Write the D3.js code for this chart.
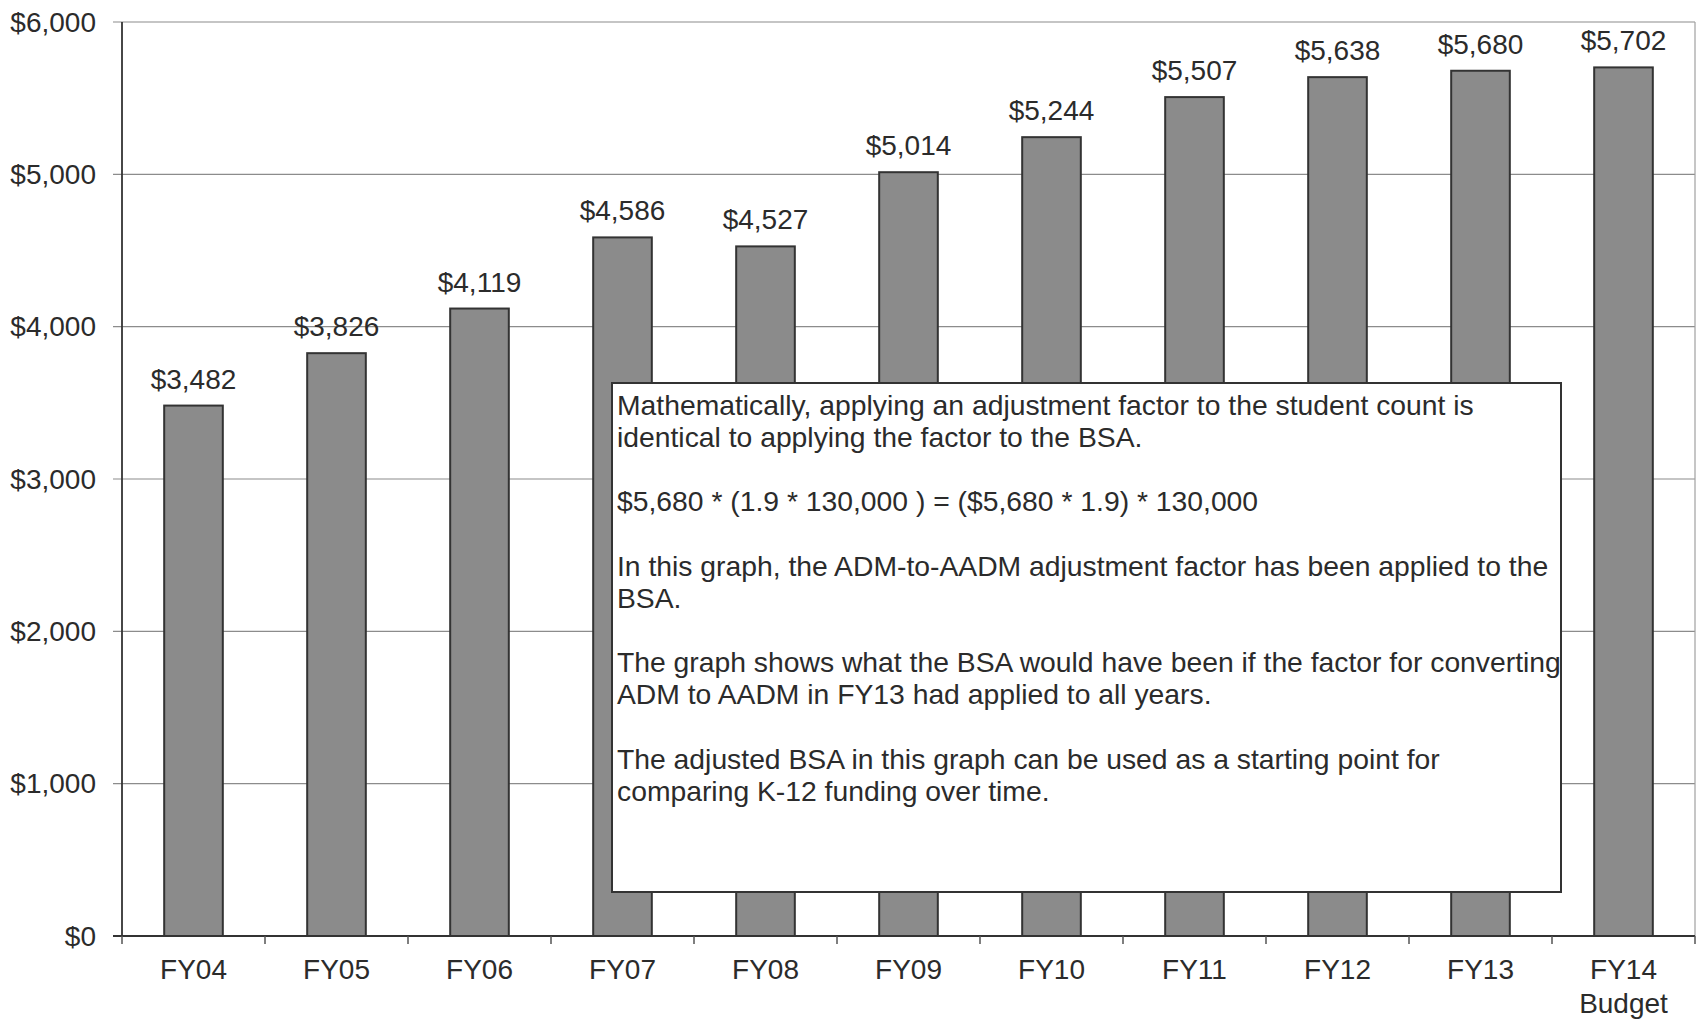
<!DOCTYPE html>
<html><head><meta charset="utf-8">
<script src="https://cdn.jsdelivr.net/npm/d3@7"></script>
<style>
body{margin:0;background:#fff;}
svg{display:block;font-family:"Liberation Sans",Arial,sans-serif;}
</style></head>
<body>
<svg id="c" width="1701" height="1025"></svg>
<script>
const categories = ["FY04","FY05","FY06","FY07","FY08","FY09","FY10","FY11","FY12","FY13","FY14\nBudget"];
const values = [3482,3826,4119,4586,4527,5014,5244,5507,5638,5680,5702];
const yTicks = [0,1000,2000,3000,4000,5000,6000];
const noteParagraphs = [
  ["Mathematically, applying an adjustment factor to the student count is","identical to applying the factor to the BSA."],
  ["$5,680 * (1.9 * 130,000 ) = ($5,680 * 1.9) * 130,000"],
  ["In this graph, the ADM-to-AADM adjustment factor has been applied to the","BSA."],
  ["The graph shows what the BSA would have been if the factor for converting","ADM to AADM in FY13 had applied to all years."],
  ["The adjusted BSA in this graph can be used as a starting point for","comparing K-12 funding over time."]
];

const svg = d3.select("#c");
const m = {left:122, right:1695, top:22, bottom:936};
const x = d3.scaleBand().domain(categories).range([m.left, m.right]).padding(0);
const y = d3.scaleLinear().domain([0,6000]).range([m.bottom, m.top]);
const fmt = d3.format("$,");
const textCol = "#2b2b2b";
const fs = 28;

// gridlines
svg.append("g").selectAll("line").data(yTicks.filter(d=>d>0)).join("line")
  .attr("x1", m.left-9).attr("x2", m.right)
  .attr("y1", d=>y(d)).attr("y2", d=>y(d))
  .attr("stroke", "#8c8c8c").attr("stroke-width", 1.2);
// right border
svg.append("line").attr("x1", m.right).attr("x2", m.right).attr("y1", m.top).attr("y2", m.bottom)
  .attr("stroke","#a0a0a0").attr("stroke-width",1.2);

// y axis labels
svg.append("g").selectAll("text").data(yTicks).join("text")
  .attr("x", 96).attr("y", d=>y(d)).attr("dy","0.35em")
  .attr("text-anchor","end").attr("font-size",fs).attr("fill",textCol)
  .text(d=>fmt(d));

// bars
const bw = x.bandwidth()*0.41;
svg.append("g").selectAll("rect").data(values).join("rect")
  .attr("x",(d,i)=>x(categories[i]) + (x.bandwidth()-bw)/2)
  .attr("y", d=>y(d)).attr("width", bw).attr("height", d=>m.bottom - y(d))
  .attr("fill","#8b8b8b").attr("stroke","#333").attr("stroke-width",2);

// value labels
svg.append("g").selectAll("text").data(values).join("text")
  .attr("x",(d,i)=>x(categories[i]) + x.bandwidth()/2)
  .attr("y", d=>y(d)-17)
  .attr("text-anchor","middle").attr("font-size",fs).attr("fill",textCol)
  .text(d=>fmt(d));

// axes lines
svg.append("line").attr("x1", m.left).attr("x2", m.left).attr("y1", m.top).attr("y2", m.bottom)
  .attr("stroke","#333").attr("stroke-width",1.8);
svg.append("line").attr("x1", m.left-9).attr("x2", m.right).attr("y1", m.bottom).attr("y2", m.bottom)
  .attr("stroke","#333").attr("stroke-width",1.8);
// x ticks at band boundaries
const bounds = categories.map(c=>x(c)).concat([m.right]);
svg.append("g").selectAll("line").data(bounds).join("line")
  .attr("x1",d=>d).attr("x2",d=>d).attr("y1",m.bottom).attr("y2",m.bottom+8)
  .attr("stroke","#555").attr("stroke-width",1.5);

// category labels
const cl = svg.append("g").selectAll("text").data(categories).join("text")
  .attr("x", d=>x(d)+x.bandwidth()/2).attr("y", 979)
  .attr("text-anchor","middle").attr("font-size",fs).attr("fill",textCol);
cl.each(function(d){
  const parts = d.split("\n");
  d3.select(this).selectAll("tspan").data(parts).join("tspan")
    .attr("x", x(d)+x.bandwidth()/2).attr("dy",(p,i)=>i===0?0:"1.22em").text(p=>p);
});

// note box
const box = {x:612, y:383, w:949, h:509};
svg.append("rect").attr("x",box.x).attr("y",box.y).attr("width",box.w).attr("height",box.h)
  .attr("fill","#fff").attr("stroke","#333").attr("stroke-width",2);
const lineH = 32.2;
let slot = 0;
const lines = [];
noteParagraphs.forEach(p=>{ p.forEach(l=>{lines.push({t:l,s:slot}); slot++;}); slot++; });
svg.append("g").selectAll("text").data(lines).join("text")
  .attr("x", 617).attr("y", d=>404.6 + d.s*lineH).attr("dy","0.35em")
  .attr("font-size",28.3).attr("fill",textCol)
  .text(d=>d.t);
</script>
</body></html>
